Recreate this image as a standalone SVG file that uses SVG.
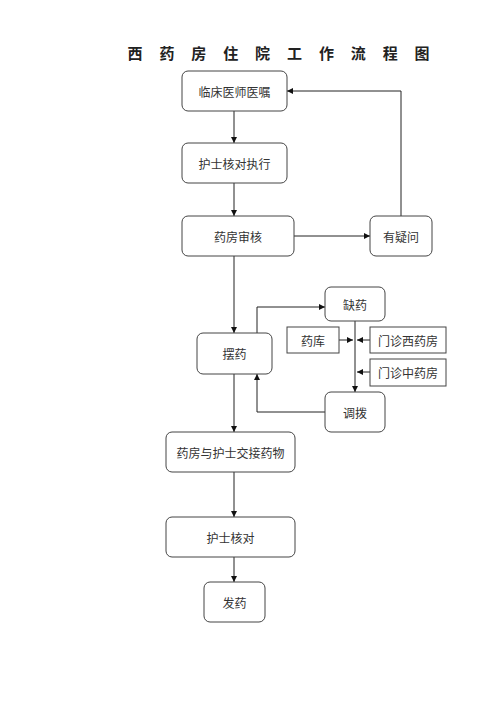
<svg xmlns="http://www.w3.org/2000/svg" width="500" height="707" viewBox="0 0 500 707">
<defs>
<marker id="ah" viewBox="0 0 10 10" refX="10" refY="5" markerWidth="6" markerHeight="6" markerUnits="userSpaceOnUse" orient="auto">
<path d="M0,0 L10,5 L0,10 z" fill="#111"/>
</marker>
<style>
.box{fill:#fff;stroke:#444;stroke-width:1}
.t{font-family:"Noto Sans CJK SC","Noto Sans",sans-serif;font-size:12px;fill:#333;text-anchor:middle;dominant-baseline:central}
.c{fill:none;stroke:#222;stroke-width:1;marker-end:url(#ah)}
.l{fill:none;stroke:#222;stroke-width:1}
</style>
</defs>
<rect width="500" height="707" fill="#fff"/>
<text x="127.5" y="52" font-family="'Noto Sans CJK SC',sans-serif" font-size="15" font-weight="bold" fill="#222" letter-spacing="16.9" dominant-baseline="central">西药房住院工作流程图</text>
<g id="connectors">
<path class="c" d="M234,111 V143"/>
<path class="c" d="M234,183 V216"/>
<path class="c" d="M294,236 H370"/>
<path class="c" d="M401,216 V91 H287"/>
<path class="c" d="M234,256 V333"/>
<path class="c" d="M257,333 V307 H325"/>
<path class="l" d="M355,321 V340"/>
<path class="c" d="M355,340 V392"/>
<path class="c" d="M339,340 H353"/>
<path class="c" d="M370,340 H357"/>
<path class="c" d="M370,372 H357"/>
<path class="c" d="M325,412 H257 V374"/>
<path class="c" d="M234,374 V432"/>
<path class="c" d="M234,472 V517"/>
<path class="c" d="M234,557 V582"/>
</g>
<g id="n1"><rect class="box" x="182" y="71" width="105" height="40" rx="6"/><text class="t" x="234.5" y="91">临床医师医嘱</text></g>
<g id="n2"><rect class="box" x="182" y="143" width="105" height="40" rx="6"/><text class="t" x="234.5" y="163">护士核对执行</text></g>
<g id="n3"><rect class="box" x="182" y="216" width="112" height="40" rx="6"/><text class="t" x="238" y="236">药房审核</text></g>
<g id="n4"><rect class="box" x="370" y="216" width="62" height="40" rx="6"/><text class="t" x="401" y="236">有疑问</text></g>
<g id="n5"><rect class="box" x="197" y="333" width="75" height="41" rx="6"/><text class="t" x="234.5" y="353.5">摆药</text></g>
<g id="n6"><rect class="box" x="325" y="287" width="60" height="34" rx="6"/><text class="t" x="355" y="304">缺药</text></g>
<g id="n7"><rect class="box" x="287" y="327" width="52" height="26"/><text class="t" x="313" y="340">药库</text></g>
<g id="n8"><rect class="box" x="370" y="327" width="76" height="26"/><text class="t" x="408" y="340">门诊西药房</text></g>
<g id="n9"><rect class="box" x="370" y="359" width="76" height="27"/><text class="t" x="408" y="372.5">门诊中药房</text></g>
<g id="n10"><rect class="box" x="325" y="392" width="60" height="40" rx="6"/><text class="t" x="355" y="412">调拨</text></g>
<g id="n11"><rect class="box" x="166" y="432" width="129" height="40" rx="6"/><text class="t" x="230.5" y="452">药房与护士交接药物</text></g>
<g id="n12"><rect class="box" x="166" y="517" width="129" height="40" rx="6"/><text class="t" x="230.5" y="537">护士核对</text></g>
<g id="n13"><rect class="box" x="204" y="582" width="61" height="40" rx="6"/><text class="t" x="234.5" y="602">发药</text></g>
</svg>
